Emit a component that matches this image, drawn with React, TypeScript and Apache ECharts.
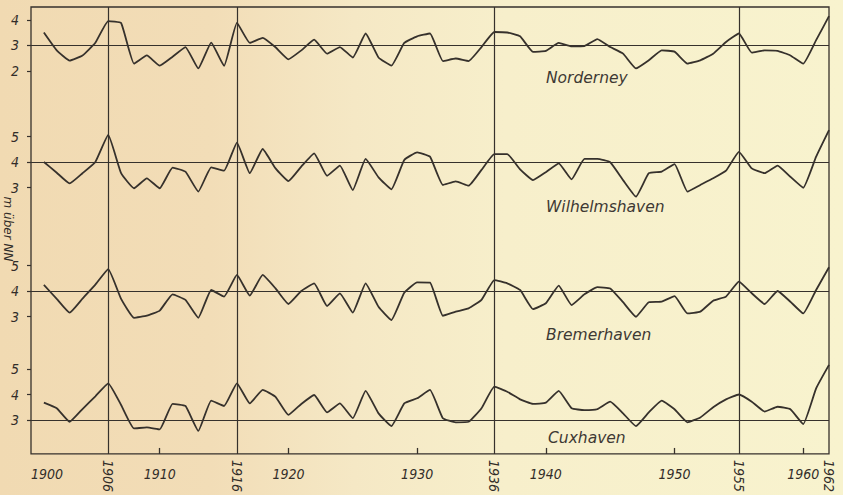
import React, { useEffect, useRef } from "react";
import * as echarts from "echarts";

const years = [
  1901, 1902, 1903, 1904, 1905, 1906, 1907, 1908, 1909, 1910,
  1911, 1912, 1913, 1914, 1915, 1916, 1917, 1918, 1919, 1920,
  1921, 1922, 1923, 1924, 1925, 1926, 1927, 1928, 1929, 1930,
  1931, 1932, 1933, 1934, 1935, 1936, 1937, 1938, 1939, 1940,
  1941, 1942, 1943, 1944, 1945, 1946, 1947, 1948, 1949, 1950,
  1951, 1952, 1953, 1954, 1955, 1956, 1957, 1958, 1959, 1960,
  1961, 1962,
];

const norderney = [
  3.5, 2.8, 2.4, 2.6, 3.1, 3.95, 3.87, 2.28, 2.6, 2.2,
  2.55, 2.93, 2.09, 3.1, 2.19, 3.88, 3.09, 3.29, 2.92, 2.45,
  2.8, 3.22, 2.67, 2.93, 2.52, 3.46, 2.52, 2.2, 3.09, 3.35,
  3.46, 2.38, 2.48, 2.38, 2.93, 3.52, 3.5, 3.35, 2.74, 2.78,
  3.09, 2.96, 2.97, 3.24, 2.93, 2.67, 2.09, 2.41, 2.8, 2.75,
  2.28, 2.41, 2.67, 3.13, 3.46, 2.71, 2.8, 2.78, 2.6, 2.28,
  3.2, 4.14,
];

const wilhelmshaven = [
  4.0, 3.58, 3.16, 3.56, 4.0, 5.06, 3.56, 2.97, 3.36, 2.97,
  3.78, 3.62, 2.84, 3.79, 3.66, 4.76, 3.56, 4.51, 3.75, 3.25,
  3.82, 4.34, 3.46, 3.86, 2.9, 4.12, 3.4, 2.93, 4.08, 4.38,
  4.21, 3.1, 3.24, 3.07, 3.69, 4.31, 4.31, 3.71, 3.29, 3.6,
  3.95, 3.32, 4.12, 4.12, 3.99, 3.29, 2.64, 3.56, 3.62, 3.92,
  2.84, 3.1, 3.36, 3.66, 4.4, 3.75, 3.56, 3.86, 3.42, 2.99,
  4.21, 5.25,
];

const bremerhaven = [
  4.24, 3.69, 3.15, 3.7, 4.25, 4.86, 3.69, 2.95, 3.03, 3.23,
  3.87, 3.65, 2.95, 4.04, 3.78, 4.63, 3.82, 4.63, 4.1, 3.49,
  4.0, 4.3, 3.41, 3.91, 3.15, 4.3, 3.38, 2.86, 3.93, 4.34,
  4.33, 3.03, 3.19, 3.32, 3.65, 4.43, 4.3, 4.04, 3.29, 3.52,
  4.21, 3.45, 3.87, 4.15, 4.1, 3.56, 2.99, 3.56, 3.58, 3.8,
  3.12, 3.19, 3.62, 3.78, 4.37, 3.91, 3.49, 4.0, 3.58, 3.12,
  4.04, 4.93,
];

const cuxhaven = [
  3.68, 3.46, 2.93, 3.43, 3.93, 4.44, 3.59, 2.67, 2.71, 2.63,
  3.63, 3.55, 2.57, 3.76, 3.55, 4.44, 3.65, 4.18, 3.91, 3.2,
  3.63, 3.98, 3.3, 3.65, 3.07, 4.14, 3.26, 2.76, 3.65, 3.85,
  4.18, 3.07, 2.91, 2.93, 3.46, 4.31, 4.11, 3.81, 3.63, 3.68,
  4.14, 3.46, 3.39, 3.43, 3.72, 3.26, 2.76, 3.3, 3.76, 3.42,
  2.91, 3.1, 3.5, 3.81, 4.0, 3.72, 3.33, 3.52, 3.42, 2.84,
  4.24, 5.16,
];

const stations = ["Norderney", "Wilhelmshaven", "Bremerhaven", "Cuxhaven"];
const stationValues = [norderney, wilhelmshaven, bremerhaven, cuxhaven];
const referenceLevels = [3, 4, 4, 3];
const yTickLabels = [
  [2, 3, 4],
  [3, 4, 5],
  [3, 4, 5],
  [3, 4, 5],
];
const yRanges = [
  [1.5, 4.5],
  [2.5, 5.5],
  [2.5, 5.5],
  [2.5, 5.5],
];
const xTickLabels = [1900, 1910, 1920, 1930, 1940, 1950, 1960];
const xTickMarks = [1910, 1920, 1930, 1940, 1950, 1960];
const markedYears = [1906, 1916, 1936, 1955, 1962];
const verticalLineYears = [1906, 1916, 1936, 1955];
const yAxisTitle = "m über NN";

const INK = "#36312c";
const TEXT_INK = "#322d29";
const NUM_FONT = "'DejaVu Sans Condensed', 'Liberation Sans Narrow', 'DejaVu Sans', sans-serif";
const LABEL_FONT = "'DejaVu Sans', sans-serif";

const panelTops = [7, 123.75, 252.75, 356.25];
const panelHeight = 76.5;
const labelPos = [
  [546, 78],
  [546, 207],
  [546, 335],
  [548, 438],
];

const plain = (v: number) => String(v);

export default function App() {
  const ref = useRef<HTMLDivElement>(null);

  useEffect(() => {
    document.body.style.margin = "0";
    if (!ref.current) return;
    const chart = echarts.init(ref.current, undefined, { renderer: "svg" });

    const grids: any[] = [
      {
        left: 31,
        right: 14,
        top: 7,
        bottom: 37,
        show: true,
        borderColor: INK,
        borderWidth: 1.3,
        backgroundColor: "transparent",
      },
    ];
    panelTops.forEach((t) => {
      grids.push({ left: 31, right: 14, top: t, height: panelHeight });
    });

    const xAxes: any[] = [
      {
        type: "value",
        gridIndex: 0,
        position: "bottom",
        min: 1900,
        max: 1962,
        axisLine: { show: false },
        splitLine: { show: false },
        axisTick: {
          show: true,
          inside: true,
          length: 6,
          customValues: xTickMarks,
          lineStyle: { color: INK, width: 1.3 },
        },
        axisLabel: {
          customValues: xTickLabels,
          formatter: plain,
          margin: 13,
          color: TEXT_INK,
          fontFamily: NUM_FONT,
          fontStyle: "italic",
          fontSize: 14,
          alignMinLabel: "left",
        },
      },
      {
        type: "value",
        gridIndex: 0,
        position: "bottom",
        min: 1900,
        max: 1962,
        axisLine: { show: false },
        splitLine: { show: false },
        axisTick: { show: false },
        axisLabel: {
          customValues: markedYears,
          formatter: plain,
          rotate: -90,
          margin: 6,
          color: TEXT_INK,
          fontFamily: NUM_FONT,
          fontStyle: "italic",
          fontSize: 14,
        },
      },
    ];
    const yAxes: any[] = [
      { type: "value", gridIndex: 0, min: 0, max: 1, show: false },
    ];

    const series: any[] = [
      {
        type: "line",
        xAxisIndex: 0,
        yAxisIndex: 0,
        data: [],
        silent: true,
        markLine: {
          silent: true,
          symbol: ["none", "none"],
          label: { show: false },
          lineStyle: { color: INK, width: 1.2, type: "solid" },
          data: verticalLineYears.map((v) => ({ xAxis: v })),
        },
      },
    ];

    stations.forEach((name, i) => {
      xAxes.push({
        type: "value",
        gridIndex: i + 1,
        min: 1900,
        max: 1962,
        show: false,
      });
      yAxes.push({
        type: "value",
        gridIndex: i + 1,
        min: yRanges[i][0],
        max: yRanges[i][1],
        axisLine: { show: false },
        splitLine: { show: false },
        axisTick: {
          show: true,
          length: 4,
          customValues: yTickLabels[i],
          lineStyle: { color: INK, width: 1.2 },
        },
        axisLabel: {
          customValues: yTickLabels[i],
          formatter: plain,
          margin: 12,
          color: TEXT_INK,
          fontFamily: NUM_FONT,
          fontStyle: "italic",
          fontSize: 14,
        },
      });
      series.push({
        name,
        type: "line",
        xAxisIndex: i + 2,
        yAxisIndex: i + 1,
        data: years.map((y, k) => [y, stationValues[i][k]]),
        symbol: "none",
        showSymbol: false,
        smooth: 0.12,
        lineStyle: { color: INK, width: 1.8 },
        silent: true,
        markLine: {
          silent: true,
          symbol: ["none", "none"],
          label: { show: false },
          lineStyle: { color: INK, width: 1.2, type: "solid" },
          data: [{ yAxis: referenceLevels[i] }],
        },
      });
    });

    const graphic: any[] = stations.map((name, i) => ({
      type: "text",
      x: labelPos[i][0],
      y: labelPos[i][1],
      silent: true,
      style: {
        text: name,
        fill: "#3e3934",
        fontFamily: LABEL_FONT,
        fontStyle: "italic",
        fontSize: 15.5,
        align: "left",
        verticalAlign: "middle",
      },
    }));
    graphic.push({
      type: "text",
      x: 8,
      y: 229,
      rotation: -Math.PI / 2,
      silent: true,
      style: {
        text: yAxisTitle,
        fill: TEXT_INK,
        fontFamily: LABEL_FONT,
        fontStyle: "italic",
        fontSize: 12,
        align: "center",
        verticalAlign: "middle",
      },
    });

    chart.setOption({
      animation: false,
      backgroundColor: "transparent",
      grid: grids,
      xAxis: xAxes,
      yAxis: yAxes,
      series,
      graphic,
    });

    return () => chart.dispose();
  }, []);

  return (
    <div
      ref={ref}
      style={{
        width: 843,
        height: 495,
        background:
          "linear-gradient(90deg, #f1dab2 0%, #f2ddb7 25%, #f5e8c5 42%, #f7efcb 60%, #f8f3ce 100%)",
      }}
    />
  );
}
